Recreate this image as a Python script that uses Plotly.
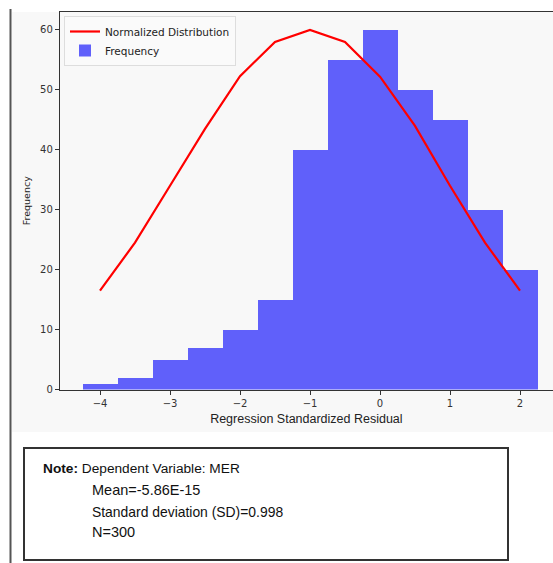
import plotly.graph_objects as go

W, H = 553, 563

# ---- data ----
bin_centers = [-4.0, -3.5, -3.0, -2.5, -2.0, -1.5, -1.0, -0.5, 0.0, 0.5, 1.0, 1.5, 2.0]
frequency = [1, 2, 5, 7, 10, 15, 40, 55, 60, 50, 45, 30, 20]
curve_x = [-4.0, -3.5, -3.0, -2.5, -2.0, -1.5, -1.0, -0.5, 0.0, 0.5, 1.0, 1.5, 2.0]
curve_y = [16.5, 24.5, 34.0, 43.5, 52.3, 58.0, 60.0, 58.0, 52.2, 44.0, 34.0, 24.5, 16.5]
xtick_vals = [-4, -3, -2, -1, 0, 1, 2]
xtick_text = ["−4", "−3", "−2", "−1", "0", "1", "2"]
ytick_vals = [0, 10, 20, 30, 40, 50, 60]
note_lines = ["Mean=-5.86E-15", "Standard deviation (SD)=0.998", "N=300"]


def px(x):
    return x / W


def py(y):
    return 1 - y / H


fig = go.Figure()
fig.add_trace(go.Bar(
    x=bin_centers, y=frequency, width=0.5, name="Frequency",
    marker=dict(color="rgb(96,96,250)", line=dict(width=0)),
))
fig.add_trace(go.Scatter(
    x=curve_x, y=curve_y, mode="lines", name="Normalized Distribution",
    line=dict(color="#ff0000", width=2.2),
))

tickfont = dict(family="DejaVu Sans", size=10, color="#333")
note_font = "Liberation Sans Narrow, Liberation Sans"

fig.update_layout(
    width=W, height=H, autosize=False,
    margin=dict(l=0, r=0, t=0, b=0, pad=0, autoexpand=False),
    paper_bgcolor="white",
    plot_bgcolor="#f9f9f9",
    showlegend=True,
    bargap=0,
    legend=dict(
        x=px(64), y=py(16), xanchor="left", yanchor="top",
        bgcolor="rgba(250,250,250,0.9)", bordercolor="#dddddd", borderwidth=1,
        font=dict(family="DejaVu Sans", size=10.5, color="#222"),
        traceorder="reversed", itemwidth=30, tracegroupgap=0,
    ),
    xaxis=dict(
        domain=[px(59.75), 1],
        range=[-4.575, (553 - 380) / 70],
        tickvals=xtick_vals, ticktext=xtick_text,
        ticks="outside", ticklen=4, tickcolor="#333",
        showline=True, linecolor="#333", linewidth=1, mirror=True,
        showgrid=False, zeroline=False, automargin=False,
        tickfont=tickfont,
        title=dict(text="Regression Standardized Residual",
                   font=dict(family="Liberation Sans", size=12.5, color="#222"),
                   standoff=6),
    ),
    yaxis=dict(
        domain=[py(389.5), py(12)],
        range=[0, 63],
        tickvals=ytick_vals,
        ticks="outside", ticklen=4, tickcolor="#333",
        showline=True, linecolor="#333", linewidth=1,
        showgrid=False, zeroline=False, automargin=False,
        tickfont=tickfont,
        title=dict(text="Frequency",
                   font=dict(family="DejaVu Sans", size=9.5, color="#222"),
                   standoff=7),
    ),
    shapes=[
        dict(type="rect", xref="paper", yref="paper", layer="below",
             x0=px(12), x1=1, y0=py(432), y1=py(12),
             fillcolor="#f8f8f8", line=dict(width=0)),
        dict(type="line", xref="paper", yref="paper",
             x0=px(10.5), x1=px(10.5), y0=0, y1=py(9),
             line=dict(color="#555", width=2)),
        dict(type="rect", xref="paper", yref="paper",
             x0=px(24), x1=px(508), y0=py(560), y1=py(448),
             line=dict(color="#333", width=2)),
    ],
    annotations=[
        dict(xref="paper", yref="paper", x=px(41), y=py(468), xanchor="left", yanchor="middle",
             showarrow=False, text="<b>Note:</b> Dependent Variable: MER",
             font=dict(family=note_font, size=13.7, color="#111")),
        dict(xref="paper", yref="paper", x=px(90), y=py(490), xanchor="left", yanchor="middle",
             showarrow=False, text=note_lines[0],
             font=dict(family=note_font, size=14.5, color="#111")),
        dict(xref="paper", yref="paper", x=px(90), y=py(512), xanchor="left", yanchor="middle",
             showarrow=False, text=note_lines[1],
             font=dict(family=note_font, size=13.9, color="#111")),
        dict(xref="paper", yref="paper", x=px(90), y=py(532), xanchor="left", yanchor="middle",
             showarrow=False, text=note_lines[2],
             font=dict(family=note_font, size=14.5, color="#111")),
    ],
)

post = (
    "var d=document.documentElement,b=document.body;"
    "d.style.margin='0';d.style.overflow='hidden';"
    "b.style.margin='0';b.style.overflow='hidden';"
)
fig.write_html("out.html", post_script=post,
               config={"displayModeBar": False, "responsive": False})
